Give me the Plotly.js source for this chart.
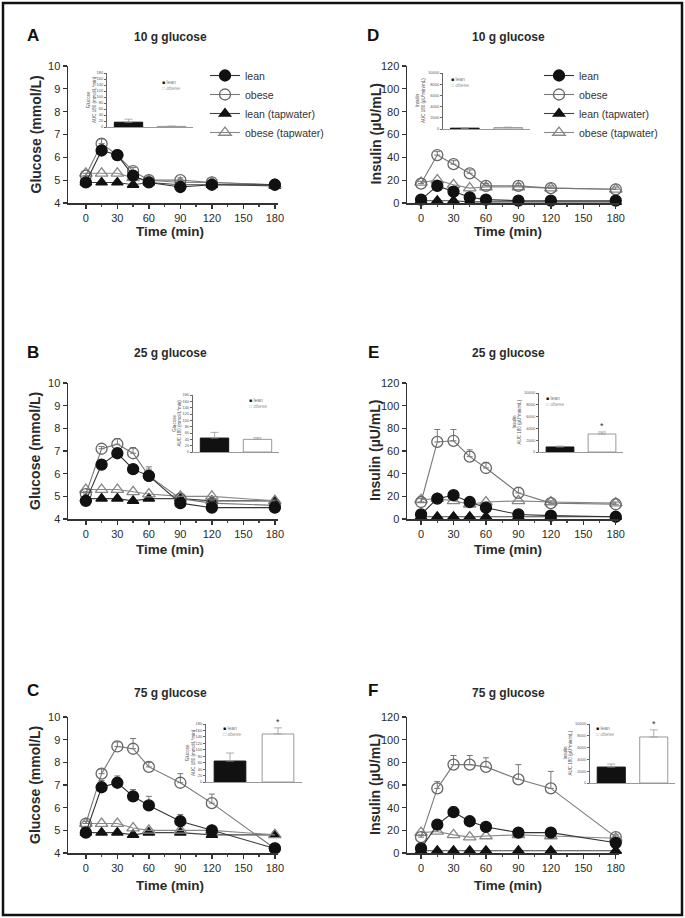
<!DOCTYPE html>
<html>
<head>
<meta charset="utf-8">
<script src="https://cdn.plot.ly/plotly-3.0.1.min.js"></script>
<style>
  body { margin: 0; background: #fff; }
  #chart { width: 685px; height: 918px; }
</style>
</head>
<body>
<div id="chart"></div>
<script>
// sampling times (min)
const times = [0, 15, 30, 45, 60, 90, 120, 180];

// glucose (mmol/L)
const gluLean10 = [4.9, 6.3, 6.1, 5.2, 4.9, 4.7, 4.8, 4.8];
const gluObese10 = [5.2, 6.6, 6.1, 5.4, 5.0, 5.0, 4.9, 4.8];
const gluLeanTap10 = [4.9, 4.9, 4.9, 4.8, 4.9, 4.8, 4.8, 4.75];
const gluObeseTap10 = [5.3, 5.3, 5.3, 5.1, 5.0, 4.9, 4.9, 4.8];
const gluLean10Err = [0.1, 0.15, 0.1, 0.1, 0.1, 0.1, 0.1, 0.1];
const gluObese10Err = [0.1, 0.2, 0.1, 0.15, 0.1, 0.1, 0.1, 0.1];

const gluLean25 = [4.8, 6.4, 6.9, 6.2, 5.9, 4.7, 4.5, 4.5];
const gluObese25 = [5.1, 7.1, 7.3, 6.9, 5.9, 4.9, 4.7, 4.6];
const gluLeanTap25 = [4.9, 4.9, 4.9, 4.8, 4.9, 4.9, 4.8, 4.8];
const gluObeseTap25 = [5.3, 5.3, 5.3, 5.2, 5.1, 5.0, 5.0, 4.8];
const gluLean25Err = [0.1, 0.15, 0.2, 0.15, 0.4, 0.1, 0.1, 0.1];
const gluObese25Err = [0.1, 0.1, 0.25, 0.25, 0.3, 0.1, 0.1, 0.1];

const gluLean75 = [4.9, 6.9, 7.1, 6.5, 6.1, 5.4, 5.0, 4.2];
const gluObese75 = [5.3, 7.5, 8.7, 8.6, 7.8, 7.1, 6.2, 4.2];
const gluLeanTap75 = [4.9, 4.9, 4.9, 4.8, 4.9, 4.9, 4.8, 4.8];
const gluObeseTap75 = [5.3, 5.3, 5.3, 5.1, 5.0, 5.0, 5.0, 4.8];
const gluLean75Err = [0.1, 0.3, 0.3, 0.3, 0.4, 0.3, 0.2, 0.1];
const gluObese75Err = [0.1, 0.2, 0.2, 0.45, 0.2, 0.4, 0.4, 0.1];

// insulin (µU/mL)
const insLean10 = [3, 15, 10, 5, 3, 2, 2, 2];
const insObese10 = [17, 42, 34, 26, 15, 15, 13, 12];
const insLeanTap10 = [2, 2, 2, 1, 1, 1, 1, 1];
const insObeseTap10 = [18, 20, 16, 13, 14, 14, 13, 12];
const insLean10Err = [1, 2, 2, 1, 1, 1, 1, 1];
const insObese10Err = [2, 3, 3, 3, 2, 2, 2, 2];

const insLean25 = [4, 18, 21, 15, 10, 4, 3, 2];
const insObese25 = [15, 68, 69, 55, 45, 23, 14, 13];
const insLeanTap25 = [2, 2, 2, 2, 2, 2, 2, 2];
const insObeseTap25 = [17, 18, 16, 13, 15, 16, 15, 14];
const insLean25Err = [1, 2, 2, 2, 2, 1, 1, 1];
const insObese25Err = [3, 11, 10, 6, 5, 5, 2, 2];

const insLean75 = [4, 25, 36, 28, 23, 18, 18, 9];
const insObese75 = [14, 57, 78, 78, 76, 65, 57, 14];
const insLeanTap75 = [2, 2, 2, 2, 2, 2, 2, 2];
const insObeseTap75 = [18, 19, 16, 14, 15, 16, 15, 13];
const insLean75Err = [1, 3, 5, 3, 2, 2, 2, 1];
const insObese75Err = [2, 6, 8, 8, 8, 13, 15, 2];

// AUC insets
const aucGroups = ['lean', 'obese'];
const gluAuc10 = [16, 2];
const gluAuc10Err = [10, 1];
const gluAuc25 = [44, 40];
const gluAuc25Err = [18, 5];
const gluAuc75 = [65, 149];
const gluAuc75Err = [25, 19];
const insAuc10 = [150, 250];
const insAuc10Err = [50, 80];
const insAuc25 = [850, 3050];
const insAuc25Err = [150, 350];
const insAuc75 = [2700, 7800];
const insAuc75Err = [500, 1200];

const W = 685, H = 918;
const px = v => v / W;
const py = v => 1 - v / H;
const FONT = 'Liberation Sans, Arial, sans-serif';
const INK = '#2a2a2a';

const traces = [];
const annotations = [];
const layout = {
  width: W, height: H,
  margin: {l: 0, r: 0, t: 0, b: 0},
  paper_bgcolor: '#fff', plot_bgcolor: '#fff',
  barmode: 'overlay',
  font: {family: FONT, color: INK},
  annotations: annotations,
  shapes: [{type: 'rect', xref: 'paper', yref: 'paper', x0: px(3), x1: px(682), y0: py(915), y1: py(3),
            line: {color: '#111', width: 2.5}}]
};

// paper-positioned text, centred on (x, y) in page pixels
function label(x, y, text, font, extra) {
  return Object.assign({xref: 'paper', yref: 'paper', x: px(x), y: py(y), text: text,
    xanchor: 'center', yanchor: 'middle', showarrow: false, font: font}, extra || {});
}

function addPanel(n, letter, title, ytitle, box, yrange, ydtick, series, legendName) {
  const xa = 'xaxis' + (n === 1 ? '' : n), ya = 'yaxis' + (n === 1 ? '' : n);
  const xr = 'x' + (n === 1 ? '' : n), yr = 'y' + (n === 1 ? '' : n);
  layout[xa] = {
    domain: [px(box.x0), px(box.x1)], anchor: yr, range: box.xrange,
    tickvals: [0, 30, 60, 90, 120, 150, 180], ticks: 'outside', ticklen: 4, tickwidth: 1.3,
    tickcolor: '#333', showline: true, linecolor: '#333', linewidth: 1.5,
    showgrid: false, zeroline: false, tickfont: {size: 11, color: INK},
    minor: {tickvals: [15, 45, 75, 105, 135, 165], ticks: 'outside', ticklen: 2, tickcolor: '#444'}
  };
  layout[ya] = {
    domain: [py(box.y1), py(box.y0)], anchor: xr, range: yrange, dtick: ydtick,
    ticks: 'outside', ticklen: 4, tickwidth: 1.3, tickcolor: '#333',
    showline: true, linecolor: '#333', linewidth: 1.5, showgrid: false, zeroline: false,
    tickfont: {size: 11, color: INK}
  };
  annotations.push(
    label(box.letterX, box.letterY, '<b>' + letter + '</b>', {size: 17, color: '#111'}),
    label(box.titleX, box.titleY, '<b>' + title + '</b>', {size: 12, color: INK}),
    label(box.titleX, box.xtitleY, '<b>Time (min)</b>', {size: 13.5, color: INK}),
    label(box.ytitleX, (box.y0 + box.y1) / 2, '<b>' + ytitle + '</b>', {size: 14, color: INK}, {textangle: -90})
  );
  series.forEach(s => {
    const t = {
      type: 'scatter', mode: 'lines+markers', x: times, y: s.y, xaxis: xr, yaxis: yr,
      name: s.name, legendrank: s.rank, cliponaxis: false,
      line: {color: s.lineColor, width: 1.1},
      marker: {symbol: s.symbol, size: s.size, color: s.color, line: {color: s.color, width: 1.3}},
      showlegend: !!legendName, legend: legendName || 'legend'
    };
    if (s.err) {
      t.error_y = {type: 'data', array: s.err, arrayminus: times.map(() => 0), symmetric: false,
                   color: '#777', thickness: 1, width: 3};
    }
    traces.push(t);
  });
}

function makeSeries(lean, obese, leanTap, obeseTap, leanErr, obeseErr) {
  return [
    {name: 'lean (tapwater)', rank: 3, y: leanTap, symbol: 'triangle-up', size: 10, color: '#111', lineColor: '#444'},
    {name: 'obese (tapwater)', rank: 4, y: obeseTap, symbol: 'triangle-up-open', size: 11, color: '#888', lineColor: '#888'},
    {name: 'obese', rank: 2, y: obese, symbol: 'circle-open', size: 11, color: '#666', lineColor: '#777', err: obeseErr},
    {name: 'lean', rank: 1, y: lean, symbol: 'circle', size: 11, color: '#111', lineColor: '#333', err: leanErr}
  ];
}

function addInset(n, box, vals, errs, yrange, ydtick, ytitle, titleGap, star) {
  const xr = 'x' + n, yr = 'y' + n;
  layout['xaxis' + n] = {
    domain: [px(box.x0), px(box.x1)], anchor: yr, type: 'category', range: [-0.5, 1.5],
    showticklabels: false, ticks: '', showline: true, linecolor: '#999', linewidth: 1,
    showgrid: false, zeroline: false
  };
  layout['yaxis' + n] = {
    domain: [py(box.y1), py(box.y0)], anchor: xr, range: yrange, dtick: ydtick,
    ticks: 'outside', ticklen: 2, tickcolor: '#666', showline: true, linecolor: '#666', linewidth: 1,
    showgrid: false, zeroline: false, tickfont: {size: 4, color: '#555'},
    exponentformat: 'none', tickformat: 'd'
  };
  const fills = ['#111', '#fff'];
  const edges = ['#111', '#999'];
  aucGroups.forEach((g, i) => {
    traces.push({
      type: 'bar', x: [g], y: [vals[i]], xaxis: xr, yaxis: yr, width: 0.66, showlegend: false,
      marker: {color: fills[i], line: {color: edges[i], width: 1}},
      error_y: {type: 'data', array: [errs[i]], arrayminus: [0], symmetric: false, color: '#999', thickness: 0.8, width: 4}
    });
  });
  annotations.push(
    label(box.x0 - titleGap, (box.y0 + box.y1) / 2, ytitle, {size: 4.5, color: '#555'}, {textangle: -90}),
    label(box.legX, box.legY, '<span style="color:#111">■</span> lean', {size: 5, color: '#777'}, {xanchor: 'left'}),
    label(box.legX, box.legY + 6, '<span style="color:#aaa">□</span> obese', {size: 5, color: '#999'}, {xanchor: 'left'})
  );
  if (star) {
    annotations.push({xref: xr, yref: yr, x: aucGroups[1], y: vals[1] + errs[1], yshift: 6, text: '*',
      xanchor: 'center', yanchor: 'middle', showarrow: false, font: {size: 9, color: '#333'}});
  }
}

const leftCol = {x0: 68, x1: 278, xrange: [-17, 183], letterX: 33, titleX: 170, ytitleX: 35};
const rightCol = {x0: 407, x1: 619, xrange: [-13, 183], letterX: 373, titleX: 508, ytitleX: 375};
const rowA = {y0: 66, y1: 203, letterY: 35, titleY: 37, xtitleY: 231};
const rowB = {y0: 383, y1: 519, letterY: 352, titleY: 353, xtitleY: 549};
const rowC = {y0: 717, y1: 853, letterY: 690, titleY: 693, xtitleY: 885};

const gluLabel = 'Glucose (mmol/L)';
const insLabel = 'Insulin (µU/mL)';

addPanel(1, 'A', '10 g glucose', gluLabel, Object.assign({}, leftCol, rowA), [4, 10], 1,
  makeSeries(gluLean10, gluObese10, gluLeanTap10, gluObeseTap10, gluLean10Err, gluObese10Err), 'legend');
addPanel(2, 'B', '25 g glucose', gluLabel, Object.assign({}, leftCol, rowB), [4, 10], 1,
  makeSeries(gluLean25, gluObese25, gluLeanTap25, gluObeseTap25, gluLean25Err, gluObese25Err), null);
addPanel(3, 'C', '75 g glucose', gluLabel, Object.assign({}, leftCol, rowC), [4, 10], 1,
  makeSeries(gluLean75, gluObese75, gluLeanTap75, gluObeseTap75, gluLean75Err, gluObese75Err), null);
addPanel(4, 'D', '10 g glucose', insLabel, Object.assign({}, rightCol, rowA), [0, 120], 20,
  makeSeries(insLean10, insObese10, insLeanTap10, insObeseTap10, insLean10Err, insObese10Err), 'legend2');
addPanel(5, 'E', '25 g glucose', insLabel, Object.assign({}, rightCol, rowB), [0, 120], 20,
  makeSeries(insLean25, insObese25, insLeanTap25, insObeseTap25, insLean25Err, insObese25Err), null);
addPanel(6, 'F', '75 g glucose', insLabel, Object.assign({}, rightCol, rowC), [0, 120], 20,
  makeSeries(insLean75, insObese75, insLeanTap75, insObeseTap75, insLean75Err, insObese75Err), null);

const gluAucLabel = 'Glucose<br>AUC 180 (mmol/L*min)';
const insAucLabel = 'Insulin<br>AUC 180 (µU*min/mL)';
addInset(7, {x0: 107, x1: 193, y0: 73, y1: 127, legX: 160, legY: 82}, gluAuc10, gluAuc10Err, [0, 180], 20, gluAucLabel, 16, false);
addInset(8, {x0: 193, x1: 279, y0: 395, y1: 452, legX: 247, legY: 400}, gluAuc25, gluAuc25Err, [0, 180], 20, gluAucLabel, 16, false);
addInset(9, {x0: 206, x1: 302, y0: 724, y1: 782, legX: 221, legY: 728}, gluAuc75, gluAuc75Err, [0, 180], 20, gluAucLabel, 16, true);
addInset(10, {x0: 443, x1: 530, y0: 73, y1: 129, legX: 449, legY: 79}, insAuc10, insAuc10Err, [0, 10000], 2000, insAucLabel, 22, false);
addInset(11, {x0: 539, x1: 623, y0: 393, y1: 452, legX: 544, legY: 398}, insAuc25, insAuc25Err, [0, 10000], 2000, insAucLabel, 22, true);
addInset(12, {x0: 590, x1: 675, y0: 724, y1: 783, legX: 594, legY: 728}, insAuc75, insAuc75Err, [0, 10000], 2000, insAucLabel, 22, true);

layout.legend = {x: px(205), y: py(61), xanchor: 'left', yanchor: 'top', bgcolor: 'rgba(0,0,0,0)',
  font: {size: 10.5, color: '#333'}, traceorder: 'normal'};
layout.legend2 = {x: px(539), y: py(61), xanchor: 'left', yanchor: 'top', bgcolor: 'rgba(0,0,0,0)',
  font: {size: 10.5, color: '#333'}, traceorder: 'normal'};

Plotly.newPlot('chart', traces, layout, {displayModeBar: false, staticPlot: true});
</script>
</body>
</html>
